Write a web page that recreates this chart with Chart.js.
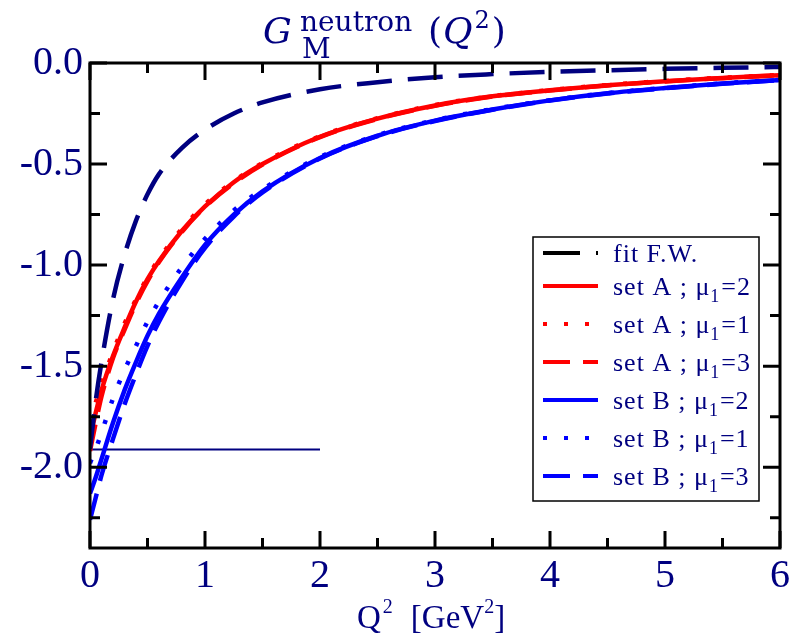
<!DOCTYPE html>
<html>
<head>
<meta charset="utf-8">
<title>G_M neutron</title>
<script src="https://cdn.jsdelivr.net/npm/chart.js@4.4.1/dist/chart.umd.min.js"></script>
<style>
html, body { margin: 0; padding: 0; background: #fff; }
canvas { display: block; }
</style>
</head>
<body>
<canvas id="chartGm" width="794" height="637" style="width:794px;height:637px"></canvas>
<script>
// Q^2 grid [GeV^2]
var q2 = [0, 0.05, 0.1, 0.2, 0.3, 0.4, 0.5, 0.6, 0.8, 1.0, 1.25, 1.5, 2.0, 2.5, 3.0, 3.5, 4.0, 4.5, 5.0, 5.5, 6.0];

// values
var fitFW = [-1.91, -1.67, -1.48, -1.17, -0.95, -0.78, -0.65, -0.55, -0.42, -0.33, -0.25, -0.195, -0.13, -0.095, -0.07, -0.055, -0.044, -0.036, -0.029, -0.024, -0.02];
var setA2 = [-1.85, -1.73, -1.62, -1.45, -1.31, -1.18, -1.07, -0.98, -0.83, -0.71, -0.59, -0.50, -0.365, -0.275, -0.21, -0.165, -0.135, -0.11, -0.09, -0.074, -0.06];
var setA1 = [-1.78, -1.68, -1.59, -1.43, -1.29, -1.17, -1.06, -0.97, -0.82, -0.70, -0.585, -0.495, -0.362, -0.273, -0.208, -0.164, -0.134, -0.109, -0.089, -0.073, -0.059];
var setA3 = [-1.92, -1.78, -1.65, -1.46, -1.32, -1.19, -1.08, -0.985, -0.835, -0.712, -0.595, -0.502, -0.367, -0.277, -0.212, -0.166, -0.136, -0.111, -0.091, -0.075, -0.061];
var setB2 = [-2.13, -2.05, -1.96, -1.78, -1.62, -1.48, -1.35, -1.24, -1.06, -0.90, -0.75, -0.635, -0.47, -0.36, -0.285, -0.23, -0.185, -0.15, -0.124, -0.102, -0.084];
var setB1 = [-1.98, -1.91, -1.83, -1.66, -1.52, -1.40, -1.28, -1.18, -1.01, -0.87, -0.73, -0.625, -0.465, -0.357, -0.283, -0.228, -0.184, -0.149, -0.123, -0.101, -0.083];
var setB3 = [-2.26, -2.15, -2.04, -1.86, -1.69, -1.54, -1.40, -1.28, -1.08, -0.915, -0.76, -0.64, -0.473, -0.362, -0.287, -0.231, -0.186, -0.151, -0.125, -0.103, -0.085];

// magnetic moment marker line
var momentX = [0, 2];
var momentY = [-1.913, -1.913];

var legendLabels = ["fit F.W.", "set A ; μ₁=2", "set A ; μ₁=1", "set A ; μ₁=3", "set B ; μ₁=2", "set B ; μ₁=1", "set B ; μ₁=3"];

var NAVY = "#000080";
var SERIF = "'Liberation Serif', 'Times New Roman', serif";

function pts(xs, ys) {
    return xs.map(function (x, i) { return { x: x, y: ys[i] }; });
}

function line(label, xs, ys, color, dash, legendColor, legendDash) {
    return {
        label: label,
        data: pts(xs, ys),
        showLine: true,
        borderColor: color,
        backgroundColor: color,
        borderWidth: 4.5,
        borderDash: dash,
        pointRadius: 0,
        fill: false,
        cubicInterpolationMode: "monotone",
        legendColor: legendColor || color,
        legendDash: legendDash || dash
    };
}

var DOT = [4, 17];
var DASH = [27, 13];

var datasets = [
    line(legendLabels[0], q2, fitFW, NAVY, [35, 16], "#000", [37, 16, 3, 16]),
    line(legendLabels[1], q2, setA2, "#ff0000", []),
    line(legendLabels[2], q2, setA1, "#ff0000", DOT),
    line(legendLabels[3], q2, setA3, "#ff0000", DASH),
    line(legendLabels[4], q2, setB2, "#0000ff", []),
    line(legendLabels[5], q2, setB1, "#0000ff", DOT),
    line(legendLabels[6], q2, setB3, "#0000ff", DASH),
    {
        label: "moment",
        data: pts(momentX, momentY),
        showLine: true,
        borderColor: NAVY,
        borderWidth: 2,
        pointRadius: 0,
        fill: false,
        noLegend: true
    }
];

function isMajor(v, step) {
    var r = v / step;
    return Math.abs(r - Math.round(r)) < 1e-6;
}

// frame with inward ticks on all four sides
var frameTicks = {
    id: "frameTicks",
    afterDatasetsDraw: function (chart) {
        var ctx = chart.ctx, a = chart.chartArea;
        var xs = chart.scales.x, ys = chart.scales.y;
        ctx.save();
        ctx.strokeStyle = "#000";
        ctx.lineWidth = 3;
        ctx.setLineDash([]);
        xs.ticks.forEach(function (t) {
            var px = xs.getPixelForValue(t.value);
            var len = isMajor(t.value, 1) ? 17 : 10;
            ctx.beginPath();
            ctx.moveTo(px, a.bottom); ctx.lineTo(px, a.bottom - len);
            ctx.moveTo(px, a.top); ctx.lineTo(px, a.top + len);
            ctx.stroke();
        });
        ys.ticks.forEach(function (t) {
            var py = ys.getPixelForValue(t.value);
            var len = isMajor(t.value, 0.5) ? 17 : 10;
            ctx.beginPath();
            ctx.moveTo(a.left, py); ctx.lineTo(a.left + len, py);
            ctx.moveTo(a.right, py); ctx.lineTo(a.right - len, py);
            ctx.stroke();
        });
        ctx.strokeRect(a.left, a.top, a.right - a.left, a.bottom - a.top);
        ctx.restore();
    }
};

// legend box inside the plot, with subscripted mu_1
var boxLegend = {
    id: "boxLegend",
    afterDatasetsDraw: function (chart) {
        var ctx = chart.ctx;
        var bx = 533, by = 237, bw = 226, bh = 264;
        var rowY = [253, 286, 324, 362, 400, 438, 476];
        ctx.save();
        ctx.fillStyle = "#fff";
        ctx.fillRect(bx, by, bw, bh);
        ctx.strokeStyle = "#000";
        ctx.lineWidth = 1.5;
        ctx.strokeRect(bx, by, bw, bh);
        var i = 0;
        chart.data.datasets.forEach(function (ds) {
            if (ds.noLegend) return;
            var y = rowY[i++];
            ctx.beginPath();
            ctx.strokeStyle = ds.legendColor;
            ctx.lineWidth = 4;
            ctx.setLineDash(ds.legendDash);
            ctx.moveTo(543, y);
            ctx.lineTo(598, y);
            ctx.stroke();
            ctx.setLineDash([]);
            ctx.fillStyle = NAVY;
            ctx.textBaseline = "alphabetic";
            ctx.letterSpacing = "1px";
            var parts = ds.label.split("₁");
            var x = 613, base = y + 9;
            ctx.font = "26px " + SERIF;
            ctx.fillText(parts[0], x, base);
            x += ctx.measureText(parts[0]).width;
            if (parts.length > 1) {
                ctx.font = "18px " + SERIF;
                ctx.fillText("1", x, base + 7);
                x += ctx.measureText("1").width + 1;
                ctx.font = "26px " + SERIF;
                ctx.fillText(parts[1], x, base);
            }
        });
        ctx.restore();
    }
};

// title G_M^neutron(Q^2) and axis title Q^2 [GeV^2]
var mathTitle = {
    id: "mathTitle",
    afterDraw: function (chart) {
        var ctx = chart.ctx;
        ctx.save();
        ctx.fillStyle = NAVY;
        ctx.textBaseline = "alphabetic";
        ctx.font = "italic 36px 'DejaVu Serif'";
        ctx.fillText("G", 263, 43);
        ctx.font = "28px 'DejaVu Serif'";
        ctx.fillText("neutron", 300, 31);
        ctx.fillText("M", 302, 58);
        var x = 428;
        ctx.font = "36px 'DejaVu Serif'";
        ctx.fillText("(", x, 43);
        x += ctx.measureText("(").width + 1;
        ctx.font = "italic 36px 'DejaVu Serif'";
        ctx.fillText("Q", x, 43);
        x += ctx.measureText("Q").width + 2;
        ctx.font = "24px 'DejaVu Serif'";
        ctx.fillText("2", x, 28);
        x += ctx.measureText("2").width + 2;
        ctx.font = "36px 'DejaVu Serif'";
        ctx.fillText(")", x, 43);

        // x axis title
        var base = 628;
        x = 357;
        ctx.font = "33px " + SERIF;
        ctx.fillText("Q", x, base);
        x += ctx.measureText("Q").width + 2;
        ctx.font = "20px " + SERIF;
        ctx.fillText("2", x, base - 15);
        x += ctx.measureText("2").width + 18;
        ctx.font = "33px " + SERIF;
        ctx.fillText("[GeV", x, base);
        x += ctx.measureText("[GeV").width;
        ctx.font = "20px " + SERIF;
        ctx.fillText("2", x, base - 15);
        x += ctx.measureText("2").width;
        ctx.font = "33px " + SERIF;
        ctx.fillText("]", x, base);
        ctx.restore();
    }
};

var ctx_chart = document.getElementById("chartGm").getContext("2d");
var chart = new Chart(ctx_chart, {
    type: "scatter",
    data: { datasets: datasets },
    options: {
        responsive: false,
        animation: false,
        devicePixelRatio: 1,
        layout: { padding: { top: 63, right: 12, left: 0, bottom: 0 } },
        plugins: {
            legend: { display: false },
            tooltip: { enabled: false },
            title: { display: false }
        },
        scales: {
            x: {
                type: "linear",
                min: 0,
                max: 6,
                grid: { display: false, drawTicks: false },
                border: { display: false },
                ticks: {
                    stepSize: 0.5,
                    autoSkip: false,
                    maxRotation: 0,
                    padding: 4,
                    color: NAVY,
                    font: { family: SERIF, size: 40 },
                    callback: function (v) { return isMajor(v, 1) ? String(Math.round(v)) : ""; }
                },
                title: { display: false, text: "Q² [GeV²]" },
                afterFit: function (s) { s.height = 89; }
            },
            y: {
                type: "linear",
                min: -2.4,
                max: 0,
                grid: { display: false, drawTicks: false },
                border: { display: false },
                ticks: {
                    stepSize: 0.25,
                    includeBounds: false,
                    autoSkip: false,
                    padding: 7,
                    color: NAVY,
                    font: { family: SERIF, size: 40 },
                    callback: function (v) { return isMajor(v, 0.5) ? v.toFixed(1) : ""; }
                },
                afterFit: function (s) { s.width = 90; }
            }
        }
    },
    plugins: [frameTicks, boxLegend, mathTitle]
});
</script>
</body>
</html>
